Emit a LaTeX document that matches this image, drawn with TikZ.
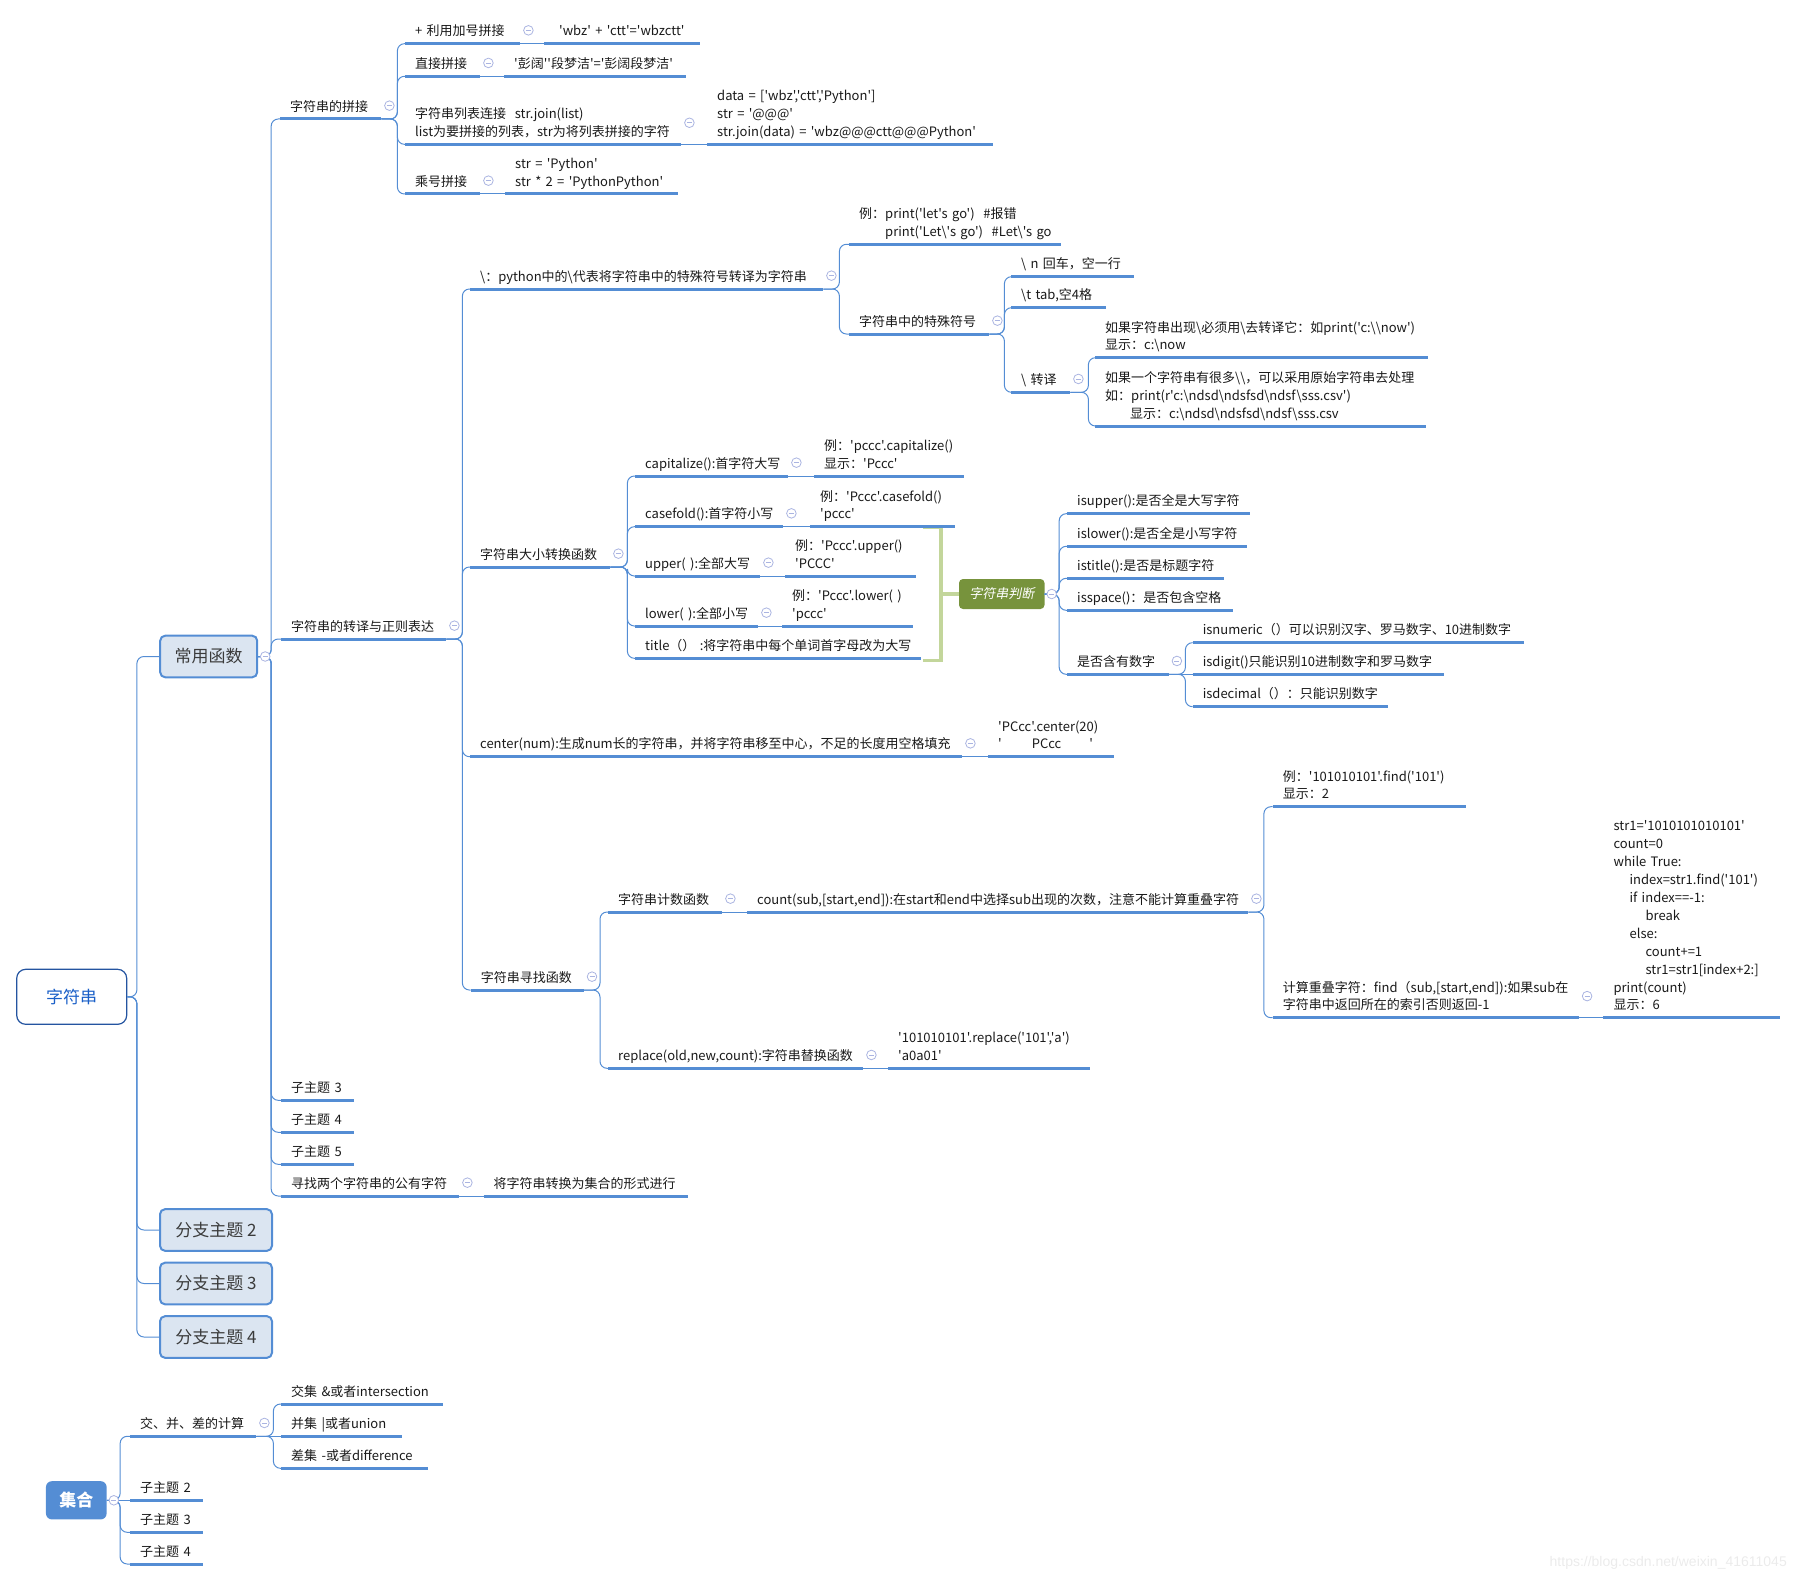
\documentclass[tikz,border=0pt]{standalone}
\usepackage{fontspec}
\newfontfamily\cjk{Noto Sans CJK SC}
\newfontfamily\cjkit{Noto Sans CJK SC}[FakeSlant=0.2]
\newfontfamily\wmfont{Liberation Sans}
\newcommand{\bsl}{\textbackslash}
\definecolor{L}{RGB}{84,141,212}
\definecolor{LF}{RGB}{219,229,241}
\definecolor{RB}{RGB}{36,84,160}
\definecolor{RT}{RGB}{25,95,200}
\definecolor{G}{RGB}{119,147,60}
\definecolor{GB}{RGB}{195,214,155}
\definecolor{C}{RGB}{170,180,225}
\definecolor{T}{RGB}{25,25,25}
\tikzset{
	sub/.style={anchor=south west, text width=#1, inner xsep=10pt, inner ysep=2.2pt, align=left,
		font=\cjk\fontsize{13}{17.9}\selectfont, text=T,
		execute at begin node={\hyphenpenalty=10000\exhyphenpenalty=10000},
		execute at end node=\strut},
	uline/.style={draw=L, line width=3pt},
	conn/.style={draw=L, line width=1pt, rounded corners=7pt},
	fold/.style={draw=C, line width=0.8pt, fill=white},
	llave/.style={draw=GB, line width=3.5pt},
	caja/.style={draw=L, fill=LF, line width=2pt, rounded corners=5pt, minimum height=41.6pt,
		inner sep=0pt, font=\cjk\fontsize{17}{20}\selectfont, text=T!85},
	raiz/.style={draw=RB, fill=white, line width=1.2pt, rounded corners=9pt, minimum width=110pt,
		minimum height=55pt, font=\cjk\fontsize{17}{20}\selectfont, text=RT},
	juicio/.style={fill=G, rounded corners=4pt, minimum width=85.5pt, minimum height=30pt,
		inner sep=0pt, font=\cjkit\fontsize{13}{16}\selectfont, text=white},
	conjunto/.style={fill=L, rounded corners=6pt, minimum width=60.7pt, minimum height=38.3pt,
		inner sep=0pt, font=\cjk\bfseries\fontsize{17}{20}\selectfont, text=white},
	marca/.style={anchor=east, inner sep=0pt, font=\wmfont\fontsize{14}{16}\selectfont, text=black!8}
}
\begin{document}
\begin{tikzpicture}[x=1pt,y=-1pt]
	\useasboundingbox (0,0) rectangle (1797,1581);

	%Raiz y ramas principales
	\node[raiz] (zfc) at (71.7,996.8) {字符串};
	\node[caja, minimum width=97pt] (cy) at (208.7,656.5) {常用函数};
	\node[caja, minimum width=112pt] (fz2) at (216,1230) {分支主题 2};
	\node[caja, minimum width=112pt] (fz3) at (216,1283.5) {分支主题 3};
	\node[caja, minimum width=112pt] (fz4) at (216,1337) {分支主题 4};

	%Concatenacion
	\node[sub=81pt] (pj) at (280,119) {字符串的拼接};
	\node[sub=95pt] (jia) at (405,43.7) {+~利用加号拼接};
	\node[sub=136pt] (jiav) at (544,43.7) {\hspace*{5pt}'wbz'~+~'ctt'='wbzctt'};
	\node[sub=55pt] (zhi) at (405,76.3) {直接拼接};
	\node[sub=162pt] (zhiv) at (504,76.3) {'彭阔''段梦洁'='彭阔段梦洁'};
	\node[sub=256pt] (lie) at (405,144.3) {字符串列表连接~~str.join(list)\\list为要拼接的列表，str为将列表拼接的字符};
	\node[sub=266pt] (liev) at (707,144.3) {data~=~['wbz','ctt','Python']\\str~=~'@@@'\\str.join(data)~=~'wbz@@@ctt@@@Python'};
	\node[sub=55pt] (che) at (405,194) {乘号拼接};
	\node[sub=153pt] (chev) at (505,194) {str~=~'Python'\\str~*~2~=~'PythonPython'};

	%Escape
	\node[sub=145pt] (zy) at (281,639) {字符串的转译与正则表达};
	\node[sub=333pt] (py) at (470,289) {\bsl：python中的\bsl 代表将字符串中的特殊符号转译为字符串};
	\node[sub=192pt] (li) at (849,244.3) {例：print('let's~go')~~\#报错\\\hspace*{26pt}print('Let\bsl's~go')~~\#Let\bsl's~go};
	\node[sub=120pt] (ts) at (849,334) {字符串中的特殊符号};
	\node[sub=103pt] (hc) at (1011,276.7) {\bsl~n~回车，空一行};
	\node[sub=75pt] (tab) at (1011,307.7) {\bsl t~tab,空4格};
	\node[sub=39pt] (zhuan) at (1011,392.3) {\bsl~转译};
	\node[sub=313pt] (zy1) at (1095,357.7) {如果字符串出现\bsl 必须用\bsl 去转译它：如print('c:\bsl\bsl now')\\显示：c:\bsl now};
	\node[sub=311pt] (zy2) at (1095,426) {如果一个字符串有很多\bsl\bsl，可以采用原始字符串去处理\\如：print(r'c:\bsl ndsd\bsl ndsfsd\bsl ndsf\bsl sss.csv')\\\hspace*{25pt}显示：c:\bsl ndsd\bsl ndsfsd\bsl ndsf\bsl sss.csv};

	%Mayusculas y minusculas
	\node[sub=120pt] (dx) at (470,567) {字符串大小转换函数};
	\node[sub=133pt] (cap) at (635,476) {capitalize():首字符大写};
	\node[sub=130pt] (capv) at (814,476) {例：'pccc'.capitalize()\\显示：'Pccc'};
	\node[sub=128pt] (cf) at (635,526.7) {casefold():首字符小写};
	\node[sub=125pt] (cfv) at (810,526.7) {例：'Pccc'.casefold()\\'pccc'};
	\node[sub=105pt] (up) at (635,576) {upper(~):全部大写};
	\node[sub=111pt] (upv) at (785,576) {例：'Pccc'.upper()\\'PCCC'};
	\node[sub=103pt] (lo) at (635,626) {lower(~):全部小写};
	\node[sub=111pt] (lov) at (782,626) {例：'Pccc'.lower(~)\\'pccc'};
	\node[sub=266pt] (ti) at (635,658.3) {title（）~:将字符串中每个单词首字母改为大写};

	%Resumen
	\node[juicio] (pd) at (1001.75,594) {字符串判断};
	\node[sub=163pt] (isu) at (1067,513.7) {isupper():是否全是大写字符};
	\node[sub=160pt] (isl) at (1067,546.3) {islower():是否全是小写字符};
	\node[sub=137pt] (ist) at (1067,578.3) {istitle():是否是标题字符};
	\node[sub=146pt] (iss) at (1067,610.3) {isspace()：是否包含空格};
	\node[sub=81.5pt] (sz) at (1067,674.3) {是否含有数字};
	\node[sub=311pt] (isn) at (1192.6,642.7) {isnumeric（）可以识别汉字、罗马数字、10进制数字};
	\node[sub=231pt] (isdg) at (1192.6,674.3) {isdigit()只能识别10进制数字和罗马数字};
	\node[sub=175pt] (isdc) at (1192.6,706.7) {isdecimal（）：只能识别数字};

	%Centrado
	\node[sub=472pt] (ce) at (470,756.7) {center(num):生成num长的字符串，并将字符串移至中心，不足的长度用空格填充};
	\node[sub=106pt] (cev) at (988,756.7) {'PCcc'.center(20)\\'\hspace*{30pt}PCcc\hspace*{28pt}'};

	%Busqueda
	\node[sub=93pt] (xz) at (470.6,990) {字符串寻找函数};
	\node[sub=94pt] (js) at (608,912) {字符串计数函数};
	\node[sub=481pt] (cnt) at (747,912) {count(sub,[start,end]):在start和end中选择sub出现的次数，注意不能计算重叠字符};
	\node[sub=173pt] (fd) at (1272.7,806.7) {例：'101010101'.find('101')\\显示：2};
	\node[sub=286pt] (cd) at (1272.7,1017.7) {计算重叠字符：find（sub,[start,end]):如果sub在\\字符串中返回所在的索引否则返回-1};
	\node[sub=156pt] (code) at (1603.4,1017.7) {str1='1010101010101'\\count=0\\while~True:\\\hspace*{16pt}index=str1.find('101')\\\hspace*{16pt}if~index==-1:\\\hspace*{32pt}break\\\hspace*{16pt}else:\\\hspace*{32pt}count+=1\\\hspace*{32pt}str1=str1[index+2:]\\print(count)\\显示：6};
	\node[sub=235pt] (rp) at (608,1068.3) {replace(old,new,count):字符串替换函数};
	\node[sub=182pt] (rpv) at (888,1068.3) {'101010101'.replace('101','a')\\'a0a01'};

	%Subtemas
	\node[sub=53pt] (z3) at (281,1100.3) {子主题~3};
	\node[sub=53pt] (z4) at (281,1132.3) {子主题~4};
	\node[sub=53pt] (z5) at (281,1164.3) {子主题~5};
	\node[sub=158pt] (gy) at (281,1196) {寻找两个字符串的公有字符};
	\node[sub=184pt] (gyv) at (483.5,1196) {将字符串转换为集合的形式进行};

	%Conjuntos
	\node[conjunto] (jh) at (76.3,1500.3) {集合};
	\node[sub=106pt] (jb) at (130,1436.3) {交、并、差的计算};
	\node[sub=142pt] (jj) at (281,1404) {交集~\&或者intersection};
	\node[sub=101pt] (bj) at (281,1436.3) {并集~|或者union};
	\node[sub=127pt] (cj) at (281,1468.3) {差集~-或者difference};
	\node[sub=53pt] (s2) at (130,1500.3) {子主题~2};
	\node[sub=53pt] (s3) at (130,1532.3) {子主题~3};
	\node[sub=53pt] (s4) at (130,1564) {子主题~4};

	\node[marca] (wm) at (1787,1563) {https://blog.csdn.net/weixin\_41611045};

	%Conectores
	\foreach \c in {cy,fz2,fz3,fz4} \draw[conn] (zfc.east) -- ++(9.6,0) |- (\c.west);
	\foreach \c in {pj,zy,z3,z4,z5,gy} \draw[conn] (cy.east) -- ++(13,0) |- (\c.south west);
	\foreach \c in {jia,zhi,lie,che} \draw[conn] (pj.south east) -- ++(16,0) |- (\c.south west);
	\foreach \c in {py,dx,ce,xz} \draw[conn] (zy.south east) -- ++(16,0) |- (\c.south west);
	\foreach \c in {li,ts} \draw[conn] (py.south east) -- ++(16,0) |- (\c.south west);
	\foreach \c in {hc,tab,zhuan} \draw[conn] (ts.south east) -- ++(15,0) |- (\c.south west);
	\foreach \c in {zy1,zy2} \draw[conn] (zhuan.south east) -- ++(18,0) |- (\c.south west);
	\foreach \c in {cap,cf,up,lo,ti} \draw[conn] (dx.south east) -- ++(17,0) |- (\c.south west);
	\foreach \c in {isu,isl,ist,iss,sz} \draw[conn] (pd.east) -- ++(14.5,0) |- (\c.south west);
	\foreach \c in {isn,isdc} \draw[conn] (sz.south east) -- ++(16.5,0) |- (\c.south west);
	\foreach \c in {js,rp} \draw[conn] (xz.south east) -- ++(16,0) |- (\c.south west);
	\foreach \c in {fd,cd} \draw[conn] (cnt.south east) -- ++(15.5,0) |- (\c.south west);
	\foreach \c in {jb,s3,s4} \draw[conn] (jh.east) -- ++(13.3,0) |- (\c.south west);
	\foreach \c in {jj,cj} \draw[conn] (jb.south east) -- ++(17,0) |- (\c.south west);
	\draw[conn] (jh.east) -- (s2.south west);
	\foreach \a/\b in {jia/jiav,zhi/zhiv,lie/liev,che/chev,cap/capv,cf/cfv,up/upv,lo/lov,sz/isdg,ce/cev,js/cnt,cd/code,rp/rpv,gy/gyv,jb/bj}
		\draw[conn] (\a.south east) -- (\b.south west);

	%Llave verde
	\draw[llave] (923,527.7) -| (941,660.7) -- (923,660.7);
	\draw[llave] (941,594) -- (pd.west);

	%Subrayados
	\foreach \n in {pj,jia,jiav,zhi,zhiv,lie,liev,che,chev,zy,py,li,ts,hc,tab,zhuan,zy1,zy2,dx,cap,capv,cf,cfv,up,upv,lo,lov,ti,isu,isl,ist,iss,sz,isn,isdg,isdc,ce,cev,xz,js,cnt,fd,cd,code,rp,rpv,z3,z4,z5,gy,gyv,jb,jj,bj,cj,s2,s3,s4}
		\draw[uline] (\n.south west) -- (\n.south east);

	%Botones de plegar
	\foreach \n in {pj,jia,zhi,lie,che,zy,py,ts,zhuan,dx,cap,cf,up,lo,sz,ce,xz,js,cnt,cd,rp,gy,jb} {
		\draw[fold] ([shift={(8,-2)}]\n.east) circle (4.8);
		\draw[fold] ([shift={(5.5,-2)}]\n.east) -- ([shift={(10.5,-2)}]\n.east);
	}
	\foreach \n in {cy,pd,jh} {
		\draw[fold] ([xshift=7pt]\n.east) circle (4.8);
		\draw[fold] ([xshift=4.5pt]\n.east) -- ([xshift=9.5pt]\n.east);
	}
\end{tikzpicture}
\end{document}
